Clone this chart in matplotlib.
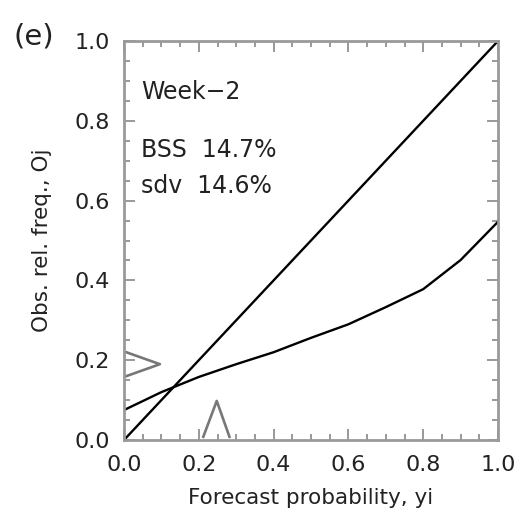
import matplotlib
matplotlib.use("Agg")
import matplotlib.pyplot as plt
import numpy as np

# Data
forecast_prob = [0.0, 0.1, 0.2, 0.3, 0.4, 0.5, 0.6, 0.7, 0.8, 0.9, 1.0]
obs_rel_freq = [0.075, 0.12, 0.158, 0.19, 0.22, 0.256, 0.290, 0.333, 0.378, 0.451, 0.547]
perfect = [0.0, 1.0]
obs_climatology = 0.19
forecast_mean = 0.248
ticks = [0.0, 0.2, 0.4, 0.6, 0.8, 1.0]
tick_labels = ["0.0", "0.2", "0.4", "0.6", "0.8", "1.0"]
panel_label = "(e)"
annotations = ["Week\u22122", "BSS  14.7%", "sdv  14.6%"]

fig = plt.figure(figsize=(5.2, 5.22), dpi=100)
ax = fig.add_axes([124/520, 1-440/522, 374/520, 399/522])

ax.plot(perfect, perfect, color="black", lw=1.7)
ax.plot(forecast_prob, obs_rel_freq, color="black", lw=1.7)

gray = "#777777"
# climatology chevrons
ax.plot([0.003, 0.096, 0.003], [obs_climatology + 0.031, obs_climatology, obs_climatology - 0.031],
        color=gray, lw=1.9, clip_on=False)
ax.plot([forecast_mean - 0.036, forecast_mean, forecast_mean + 0.034], [0.008, 0.098, 0.008],
        color=gray, lw=1.9, clip_on=False)

ax.set_xlim(0, 1)
ax.set_ylim(0, 1)
ax.set_xticks(ticks)
ax.set_xticklabels(tick_labels)
ax.set_yticks(ticks)
ax.set_yticklabels(tick_labels)
ax.set_xticks(np.arange(0, 1.001, 0.05), minor=True)
ax.set_yticks(np.arange(0, 1.001, 0.05), minor=True)
ax.tick_params(which="both", direction="in", top=True, right=True, color="#888888", width=1.2)
ax.tick_params(which="major", length=8, labelsize=16, labelcolor="#222222")
ax.tick_params(axis="x", which="major", pad=11)
ax.tick_params(axis="y", which="major", pad=10)
ax.tick_params(which="minor", length=4)
for s in ax.spines.values():
    s.set_color("#999999")
    s.set_linewidth(2)

ax.set_xlabel("Forecast probability, yi", fontsize=15.5, color="#222222", labelpad=9)
ax.set_ylabel("Obs. rel. freq., Oj", fontsize=15.5, color="#222222", labelpad=16)

fig.text(14/520, 1-36/522, panel_label, fontsize=21, va="center", ha="left", color="#222222")
ys = [0.872, 0.727, 0.637]
for t, y in zip(annotations, ys):
    ax.text(0.045, y, t, fontsize=17, color="#222222", va="center", ha="left", transform=ax.transAxes)

fig.savefig("out.png", dpi=100)
